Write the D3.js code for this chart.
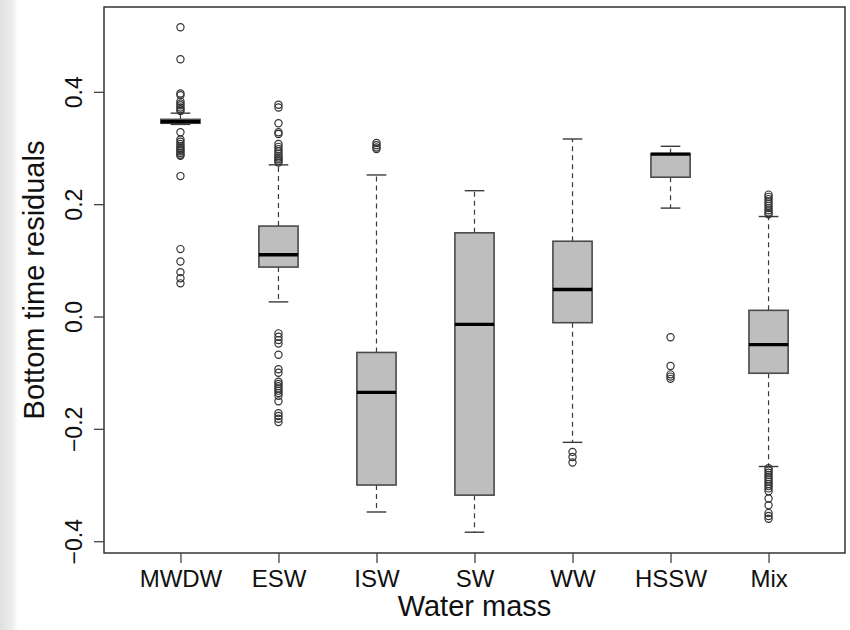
<!DOCTYPE html>
<html>
<head>
<meta charset="utf-8">
<script src="https://cdn.jsdelivr.net/npm/d3@7"></script>
<style>
  html, body { margin: 0; padding: 0; background: #ffffff; }
  svg { display: block; font-family: "Liberation Sans", Arial, Helvetica, sans-serif; }
</style>
</head>
<body>
<svg id="chart" width="850" height="630"></svg>
<script>
// ---------------- data ----------------
const categories = ["MWDW", "ESW", "ISW", "SW", "WW", "HSSW", "Mix"];
const whiskerLow  = [0.342, 0.026, -0.348, -0.384, -0.224, 0.193, -0.267];
const q1          = [0.344, 0.088, -0.300, -0.318, -0.011, 0.248, -0.101];
const medians     = [0.347, 0.110, -0.135, -0.014, 0.048, 0.289, -0.050];
const q3          = [0.351, 0.161, -0.064, 0.149, 0.134, 0.290, 0.011];
const whiskerHigh = [0.362, 0.270, 0.252, 0.224, 0.316, 0.303, 0.178];

const outliersMWDW = [0.515, 0.458, 0.397, 0.394, 0.383, 0.379, 0.376, 0.372, 0.369, 0.366,
  0.328, 0.315, 0.311, 0.307, 0.303, 0.300, 0.297, 0.294, 0.291, 0.288, 0.286, 0.250,
  0.120, 0.098, 0.079, 0.068, 0.059];
const outliersESW = [0.377, 0.372, 0.344, 0.328, 0.325, 0.307, 0.302, 0.298, 0.294, 0.290,
  0.286, 0.283, 0.280, 0.277, 0.274,
  -0.030, -0.036, -0.042, -0.048, -0.068, -0.094, -0.100, -0.116, -0.120, -0.124, -0.128,
  -0.132, -0.136, -0.141, -0.151, -0.172, -0.177, -0.182, -0.188];
const outliersISW = [0.309, 0.305, 0.301, 0.298];
const outliersSW = [];
const outliersWW = [-0.241, -0.250, -0.260];
const outliersHSSW = [-0.037, -0.088, -0.103, -0.107, -0.111];
const outliersMix = [0.217, 0.213, 0.209, 0.205, 0.201, 0.197, 0.193, 0.189, 0.185, 0.182,
  -0.270, -0.274, -0.278, -0.282, -0.286, -0.290, -0.294, -0.298, -0.302, -0.306, -0.311,
  -0.324, -0.336, -0.350, -0.355, -0.360];
const outliers = [outliersMWDW, outliersESW, outliersISW, outliersSW, outliersWW, outliersHSSW, outliersMix];

const yTicks = [-0.4, -0.2, 0.0, 0.2, 0.4];
const xTitle = "Water mass";
const yTitle = "Bottom time residuals";

// ---------------- layout ----------------
const svg = d3.select("#chart");
const plot = { left: 104, right: 845, top: 7, bottom: 553 };

// faint gray strip at left edge (screenshot artefact)
const defs = svg.append("defs");
const grad = defs.append("linearGradient").attr("id", "edge").attr("x1", 0).attr("x2", 1);
grad.append("stop").attr("offset", 0).attr("stop-color", "#e0e0e0");
grad.append("stop").attr("offset", 0.7).attr("stop-color", "#eeeeee");
grad.append("stop").attr("offset", 1).attr("stop-color", "#ffffff");
svg.append("rect").attr("x", 0).attr("y", 0).attr("width", 18).attr("height", 630).attr("fill", "url(#edge)");

const x = d3.scaleLinear().domain([0.22, categories.length + 0.78]).range([plot.left, plot.right]);
const y = d3.scaleLinear().domain([-0.421, 0.551]).range([plot.bottom, plot.top]);
const boxW = x(0.4) - x(0);
const capW = boxW / 2;

const data = categories.map((c, i) => ({
  name: c, pos: i + 1,
  lo: whiskerLow[i], q1: q1[i], med: medians[i], q3: q3[i], hi: whiskerHigh[i],
  out: outliers[i]
}));

const g = svg.append("g");
const lineCol = "#3a3a3a";

const groups = g.selectAll("g.box").data(data).enter().append("g").attr("class", "box");

// whiskers (dashed)
groups.append("line")
  .attr("x1", d => x(d.pos)).attr("x2", d => x(d.pos))
  .attr("y1", d => y(d.q3)).attr("y2", d => y(d.hi))
  .attr("stroke", lineCol).attr("stroke-width", 1.2).attr("stroke-dasharray", "5,4");
groups.append("line")
  .attr("x1", d => x(d.pos)).attr("x2", d => x(d.pos))
  .attr("y1", d => y(d.q1)).attr("y2", d => y(d.lo))
  .attr("stroke", lineCol).attr("stroke-width", 1.2).attr("stroke-dasharray", "5,4");
// staples
groups.append("line")
  .attr("x1", d => x(d.pos) - capW / 2).attr("x2", d => x(d.pos) + capW / 2)
  .attr("y1", d => y(d.hi)).attr("y2", d => y(d.hi))
  .attr("stroke", lineCol).attr("stroke-width", 1.4);
groups.append("line")
  .attr("x1", d => x(d.pos) - capW / 2).attr("x2", d => x(d.pos) + capW / 2)
  .attr("y1", d => y(d.lo)).attr("y2", d => y(d.lo))
  .attr("stroke", lineCol).attr("stroke-width", 1.4);
// boxes
groups.append("rect")
  .attr("x", d => x(d.pos) - boxW / 2).attr("width", boxW)
  .attr("y", d => y(d.q3)).attr("height", d => y(d.q1) - y(d.q3))
  .attr("fill", "#bebebe").attr("stroke", "#4a4a4a").attr("stroke-width", 1.6);
// medians
groups.append("line")
  .attr("x1", d => x(d.pos) - boxW / 2).attr("x2", d => x(d.pos) + boxW / 2)
  .attr("y1", d => y(d.med)).attr("y2", d => y(d.med))
  .attr("stroke", "#000").attr("stroke-width", 3.4);
// outliers
groups.each(function(d) {
  d3.select(this).selectAll("circle").data(d.out).enter().append("circle")
    .attr("cx", x(d.pos)).attr("cy", v => y(v)).attr("r", 3.6)
    .attr("fill", "none").attr("stroke", "#333").attr("stroke-width", 1.2);
});

// frame
svg.append("rect")
  .attr("x", plot.left).attr("y", plot.top)
  .attr("width", plot.right - plot.left).attr("height", plot.bottom - plot.top)
  .attr("fill", "none").attr("stroke", "#333").attr("stroke-width", 1.5);

// x axis
const xAxis = d3.axisBottom(x)
  .tickValues(categories.map((c, i) => i + 1))
  .tickFormat((d) => categories[d - 1])
  .tickSize(10).tickSizeOuter(0);
const xa = svg.append("g").attr("transform", `translate(0,${plot.bottom})`).call(xAxis);
xa.select(".domain").remove();
xa.selectAll(".tick line").attr("stroke", "#444").attr("stroke-width", 1.3);
xa.selectAll(".tick text").attr("fill", "#111").attr("font-size", 24)
  .attr("font-family", "Liberation Sans, Arial, sans-serif").attr("dy", null).attr("y", 34);

// y axis
const yAxis = d3.axisLeft(y).tickValues(yTicks).tickFormat(d3.format(".1f")).tickSize(10).tickSizeOuter(0);
const ya = svg.append("g").attr("transform", `translate(${plot.left},0)`).call(yAxis);
ya.select(".domain").remove();
ya.selectAll(".tick line").attr("stroke", "#444").attr("stroke-width", 1.3);
ya.selectAll(".tick text")
  .attr("fill", "#111").attr("font-size", 23)
  .attr("font-family", "Liberation Sans, Arial, sans-serif")
  .attr("x", null).attr("dy", null)
  .attr("text-anchor", "middle")
  .attr("transform", "translate(-22,0) rotate(-90)");

// titles
svg.append("text").attr("x", (plot.left + plot.right) / 2).attr("y", 616)
  .attr("text-anchor", "middle").attr("font-size", 29).attr("fill", "#111").text(xTitle);
svg.append("text").attr("transform", `translate(44,${(plot.top + plot.bottom) / 2}) rotate(-90)`)
  .attr("text-anchor", "middle").attr("font-size", 29).attr("fill", "#111").text(yTitle);
</script>
</body>
</html>
